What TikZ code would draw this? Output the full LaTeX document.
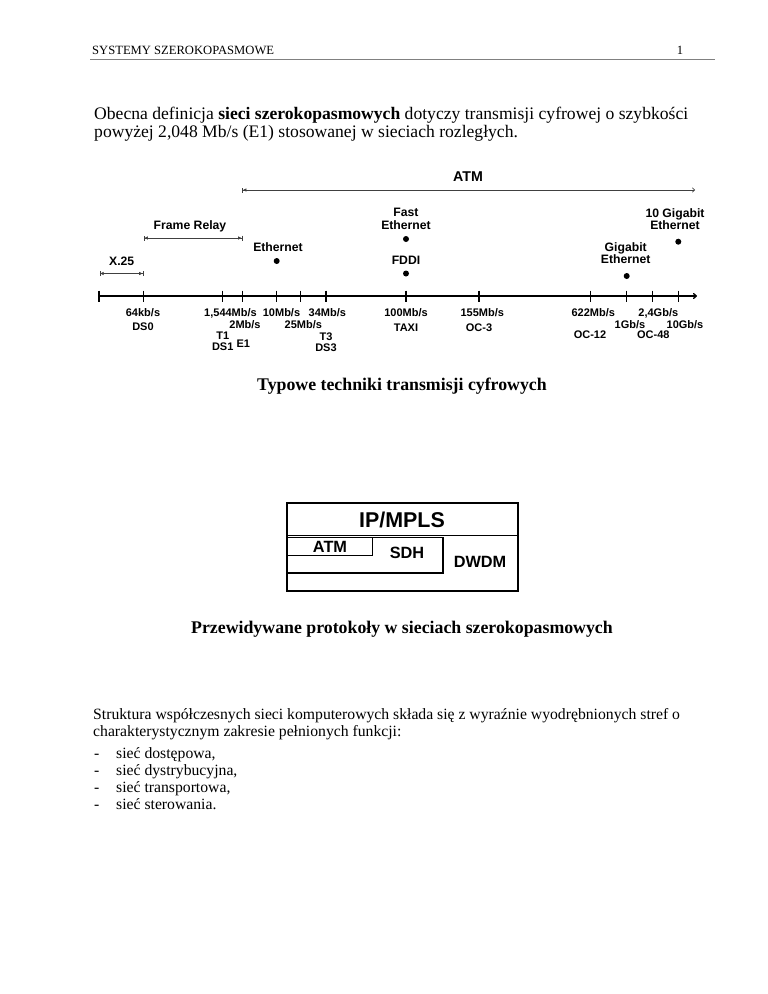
\documentclass[tikz,border=0pt]{standalone}
\usepackage{fontspec}
\setmainfont{Liberation Serif}
\newfontfamily\lsans{Liberation Sans}
\usetikzlibrary{arrows.meta}
\tikzset{
  lo/.style={font=\lsans\bfseries\fontsize{11}{11}\selectfont, inner sep=0pt, anchor=base},
  hi/.style={font=\lsans\bfseries\fontsize{12.2}{12.5}\selectfont, inner sep=0pt, align=center},
  body/.style={font=\fontsize{17.6}{17}\selectfont, inner sep=0pt, anchor=base west},
  small/.style={font=\fontsize{15.7}{17}\selectfont, inner sep=0pt, anchor=base west},
  capt/.style={font=\bfseries\fontsize{17.8}{17}\selectfont, inner sep=0pt, anchor=base},
  dotn/.style={circle, fill=black, inner sep=0pt, minimum size=6pt},
  tickm/.style={line width=1.1pt},
  span/.style={line width=0.6pt, draw=black!75, {Bar[width=5pt,line width=0.6pt]Latex[length=3.5pt,width=3.5pt]}-{Latex[length=3.5pt,width=3.5pt]Bar[width=5pt,line width=0.6pt]}},
  pbox/.style={draw, line width=1.5pt},
  ptxt/.style={font=\lsans\bfseries\fontsize{16.3}{17}\selectfont, inner sep=0pt}
}
\begin{document}
\begin{tikzpicture}[x=1pt,y=-1pt]
\useasboundingbox (0,0) rectangle (768,994);
\fill[white] (0,0) rectangle (768,994);
% header
\node[font=\fontsize{12.6}{13}\selectfont, inner sep=0pt, anchor=base west] (hdr) at (92,54) {SYSTEMY SZEROKOPASMOWE};
\node[font=\fontsize{12.6}{13}\selectfont, inner sep=0pt, anchor=base] (pg) at (680,54) {1};
\coordinate (hl) at (90,59.5);
\coordinate (hr) at (715,59.5);
\draw[black!50, line width=1.2pt] (hl) -- (hr);
% intro paragraph
\node[body] (p1) at (94,119) {Obecna definicja \textbf{sieci szerokopasmowych} dotyczy transmisji cyfrowej o szybkości};
\node[body] (p2) at (94,137) {powyżej 2,048 Mb/s (E1) stosowanej w sieciach rozległych.};
% axis
\coordinate (a0) at (99,296);
\coordinate (aend) at (697,296);
\draw[line width=1.3pt, -{To[length=4pt,width=6pt]}] (a0) -- (aend);
\foreach \x/\n in {99/0,143.3/1,222.7/2,242.3/3,276.7/4,300.3/5,326/6,406/7,479/8,590.3/9,626.7/10,652.3/11,678.3/12}{
  \coordinate (tk\n) at (\x,296);
  \draw[tickm] (\x,290.5) -- (\x,301.5);
}
% spans
\coordinate (atmL) at (242.3,190);
\coordinate (atmR) at (695,190);
\draw[line width=0.6pt, draw=black!75, {Bar[width=5pt,line width=0.6pt]Latex[length=3.5pt,width=3.5pt]}-{To[length=3pt,width=5pt]}] (atmL) -- (atmR);
\node[hi, font=\lsans\bfseries\fontsize{14.2}{15}\selectfont] (atm) at (468,177) {ATM};
\coordinate (frL) at (143.8,238);
\coordinate (frR) at (242.3,238);
\draw[span] (frL) -- (frR);
\node[hi] (fr) at (190,226) {Frame Relay};
\coordinate (xL) at (99.5,273.5);
\coordinate (xR) at (143.3,273.5);
\draw[span] (xL) -- (xR);
\node[hi] (x25) at (121.7,261) {X.25};
% technologies
\node[hi] (eth) at (278,247) {Ethernet};
\node[dotn] (ethd) at (276.7,261) {};
\node[hi] (feth) at (406,219) {Fast\\Ethernet};
\node[dotn] (fethd) at (406,239) {};
\node[hi] (fddi) at (406,260) {FDDI};
\node[dotn] (fddid) at (406,273.5) {};
\node[hi] (geth) at (625.7,253) {Gigabit\\Ethernet};
\node[dotn] (gethd) at (626.7,276) {};
\node[hi] (teth) at (675,219) {10 Gigabit\\Ethernet};
\node[dotn] (tethd) at (678.3,241.7) {};
% speeds (baselines)
\node[lo] (s64) at (143,316.7) {64kb/s};
\node[lo] (ds0) at (143,330.7) {DS0};
\node[lo] (s1544) at (230.5,316.7) {1,544Mb/s};
\node[lo] (s2) at (245,328) {2Mb/s};
\node[lo] (t1) at (222.7,339.7) {T1};
\node[lo] (ds1) at (222.7,350.7) {DS1};
\node[lo] (e1) at (243.3,347.3) {E1};
\node[lo] (s10) at (281.5,316.7) {10Mb/s};
\node[lo] (s25) at (303.3,328) {25Mb/s};
\node[lo] (s34) at (327.3,316.7) {34Mb/s};
\node[lo] (t3) at (326,340.7) {T3};
\node[lo] (ds3) at (326,351.3) {DS3};
\node[lo] (s100) at (406,316.7) {100Mb/s};
\node[lo] (taxi) at (406,331.3) {TAXI};
\node[lo] (s155) at (482.3,316.7) {155Mb/s};
\node[lo] (oc3) at (479,331.3) {OC-3};
\node[lo] (s622) at (593.3,316.7) {622Mb/s};
\node[lo] (oc12) at (590,338) {OC-12};
\node[lo] (s24) at (658.3,316.7) {2,4Gb/s};
\node[lo] (s1g) at (630,328) {1Gb/s};
\node[lo] (s10g) at (685,328) {10Gb/s};
\node[lo] (oc48) at (653.3,338) {OC-48};
% caption 1
\node[capt] (c1) at (402,390) {Typowe techniki transmisji cyfrowych};
% protocol stack
\draw[pbox] (287,503) rectangle (518,591);
\draw[pbox] (287,535.5) -- (518,535.5);
\draw[pbox] (287,537.5) rectangle (443,573);
\draw[pbox] (287,537.5) rectangle (372.5,555.5);
\node[ptxt, font=\lsans\bfseries\fontsize{21.4}{22}\selectfont] (ip) at (402,520) {IP/MPLS};
\node[ptxt] (patm) at (330,546.5) {ATM};
\node[ptxt] (sdh) at (407,553) {SDH};
\node[ptxt] (dwdm) at (480,562) {DWDM};
% caption 2
\node[capt] (c2) at (402,633) {Przewidywane protokoły w sieciach szerokopasmowych};
% final paragraph
\node[small] (q1) at (93,719) {Struktura współczesnych sieci komputerowych składa się z wyraźnie wyodrębnionych stref o};
\node[small] (q2) at (93,736) {charakterystycznym zakresie pełnionych funkcji:};
\node[small] (d1) at (94,758) {-};
\node[small] (b1) at (116,758) {sieć dostępowa,};
\node[small] (d2) at (94,775) {-};
\node[small] (b2) at (116,775) {sieć dystrybucyjna,};
\node[small] (d3) at (94,792) {-};
\node[small] (b3) at (116,792) {sieć transportowa,};
\node[small] (d4) at (94,809) {-};
\node[small] (b4) at (116,809) {sieć sterowania.};
\end{tikzpicture}
\end{document}
